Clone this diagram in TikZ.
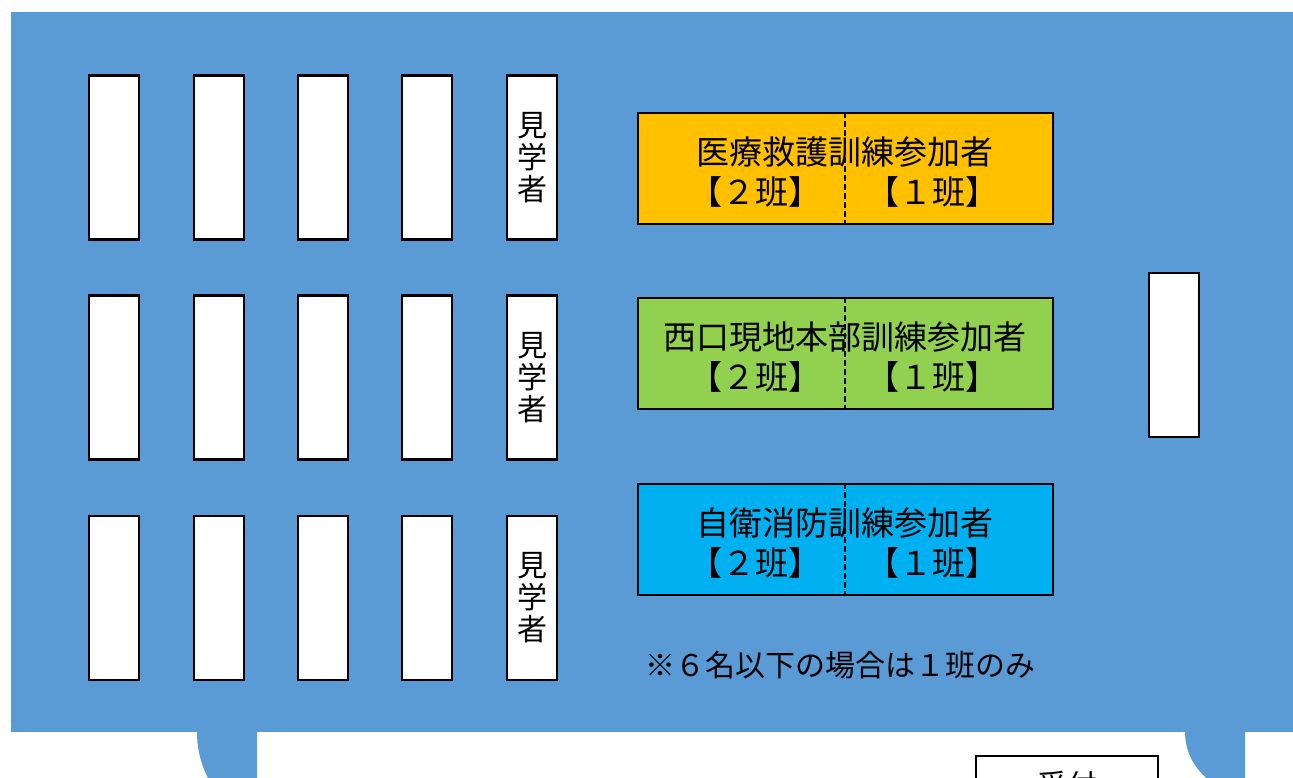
\documentclass[tikz,border=0pt]{standalone}
\usepackage{fontspec}
\setmainfont{Noto Sans CJK JP}
\definecolor{RoomBlue}{RGB}{91, 155, 213}
\definecolor{MyOrange}{RGB}{255, 192, 0}
\definecolor{MyGreen}{RGB}{146, 208, 80}
\definecolor{MyCyan}{RGB}{0, 176, 240}

\tikzset{
  seat/.style={draw, fill=white, line width=2.2pt, minimum width=37.5pt, minimum height=123pt, inner sep=0pt},
  group/.style={draw, line width=1.5pt, minimum width=311.25pt, minimum height=83.25pt, inner sep=0pt},
  label/.style={inner sep=0pt, font=\fontsize{24.75}{30}\selectfont},
  split/.style={line width=1.5pt, dash pattern=on 4.5pt off 2.25pt}
}

\begin{document}
\begin{tikzpicture}[x=0.75pt, y=-0.75pt]
\useasboundingbox (0,0) rectangle (1293,778);
\clip (0,0) rectangle (1293,778);
\fill[white] (0,0) rectangle (1293,778);
\fill[RoomBlue] (11,12) rectangle (1300,732);
% doors
\begin{scope}
\clip (197,730) rectangle (257,790);
\fill[RoomBlue] (299,732) circle[radius=102];
\end{scope}
\begin{scope}
\clip (1185,730) rectangle (1245,790);
\fill[RoomBlue] (1245,732) circle[radius=60];
\end{scope}
% seats
\foreach \row/\y in {1/157.5, 2/377.5, 3/598}{
  \foreach \col/\x in {1/114, 2/219, 3/323, 4/427}{
    \node[seat] (seat\row\col) at (\x,\y) {};
  }
  \node[seat, align=center, font=\fontsize{22.5}{24}\selectfont] (guest\row) at (532,\y) {見\\学\\者};
}
\node[seat] (front) at (1174,355) {};
% groups
\node[group, fill=MyOrange] (medical) at (845,168) {};
\node[group, fill=MyGreen] (west) at (845,353) {};
\node[group, fill=MyCyan] (selfdef) at (845,539) {};
\node[label] (medicalT) at (845,152) {医療救護訓練参加者};
\node[label] (westT) at (845,337) {西口現地本部訓練参加者};
\node[label] (selfdefT) at (845,523) {自衛消防訓練参加者};
\node[label] (medical2) at (755,191.5) {【２班】};
\node[label] (medical1) at (932.5,191.5) {【１班】};
\node[label] (west2) at (755,376.5) {【２班】};
\node[label] (west1) at (932.5,376.5) {【１班】};
\node[label] (selfdef2) at (755,562.5) {【２班】};
\node[label] (selfdef1) at (932.5,562.5) {【１班】};
\draw[split] (medical.north) -- (medical.south);
\draw[split] (west.north) -- (west.south);
\draw[split] (selfdef.north) -- (selfdef.south);
\node[inner sep=0pt, font=\fontsize{22.5}{27}\selectfont] (note) at (840,665) {※６名以下の場合は１班のみ};
% reception
\node[draw, fill=white, line width=1.5pt, minimum width=136.5pt, minimum height=60pt, anchor=north, inner sep=0pt, text depth=0pt] (desk) at (1067,755) {};
\node[inner sep=0pt, font=\fontsize{22.5}{27}\selectfont] (deskT) at (1067,785) {受付};
\end{tikzpicture}
\end{document}
